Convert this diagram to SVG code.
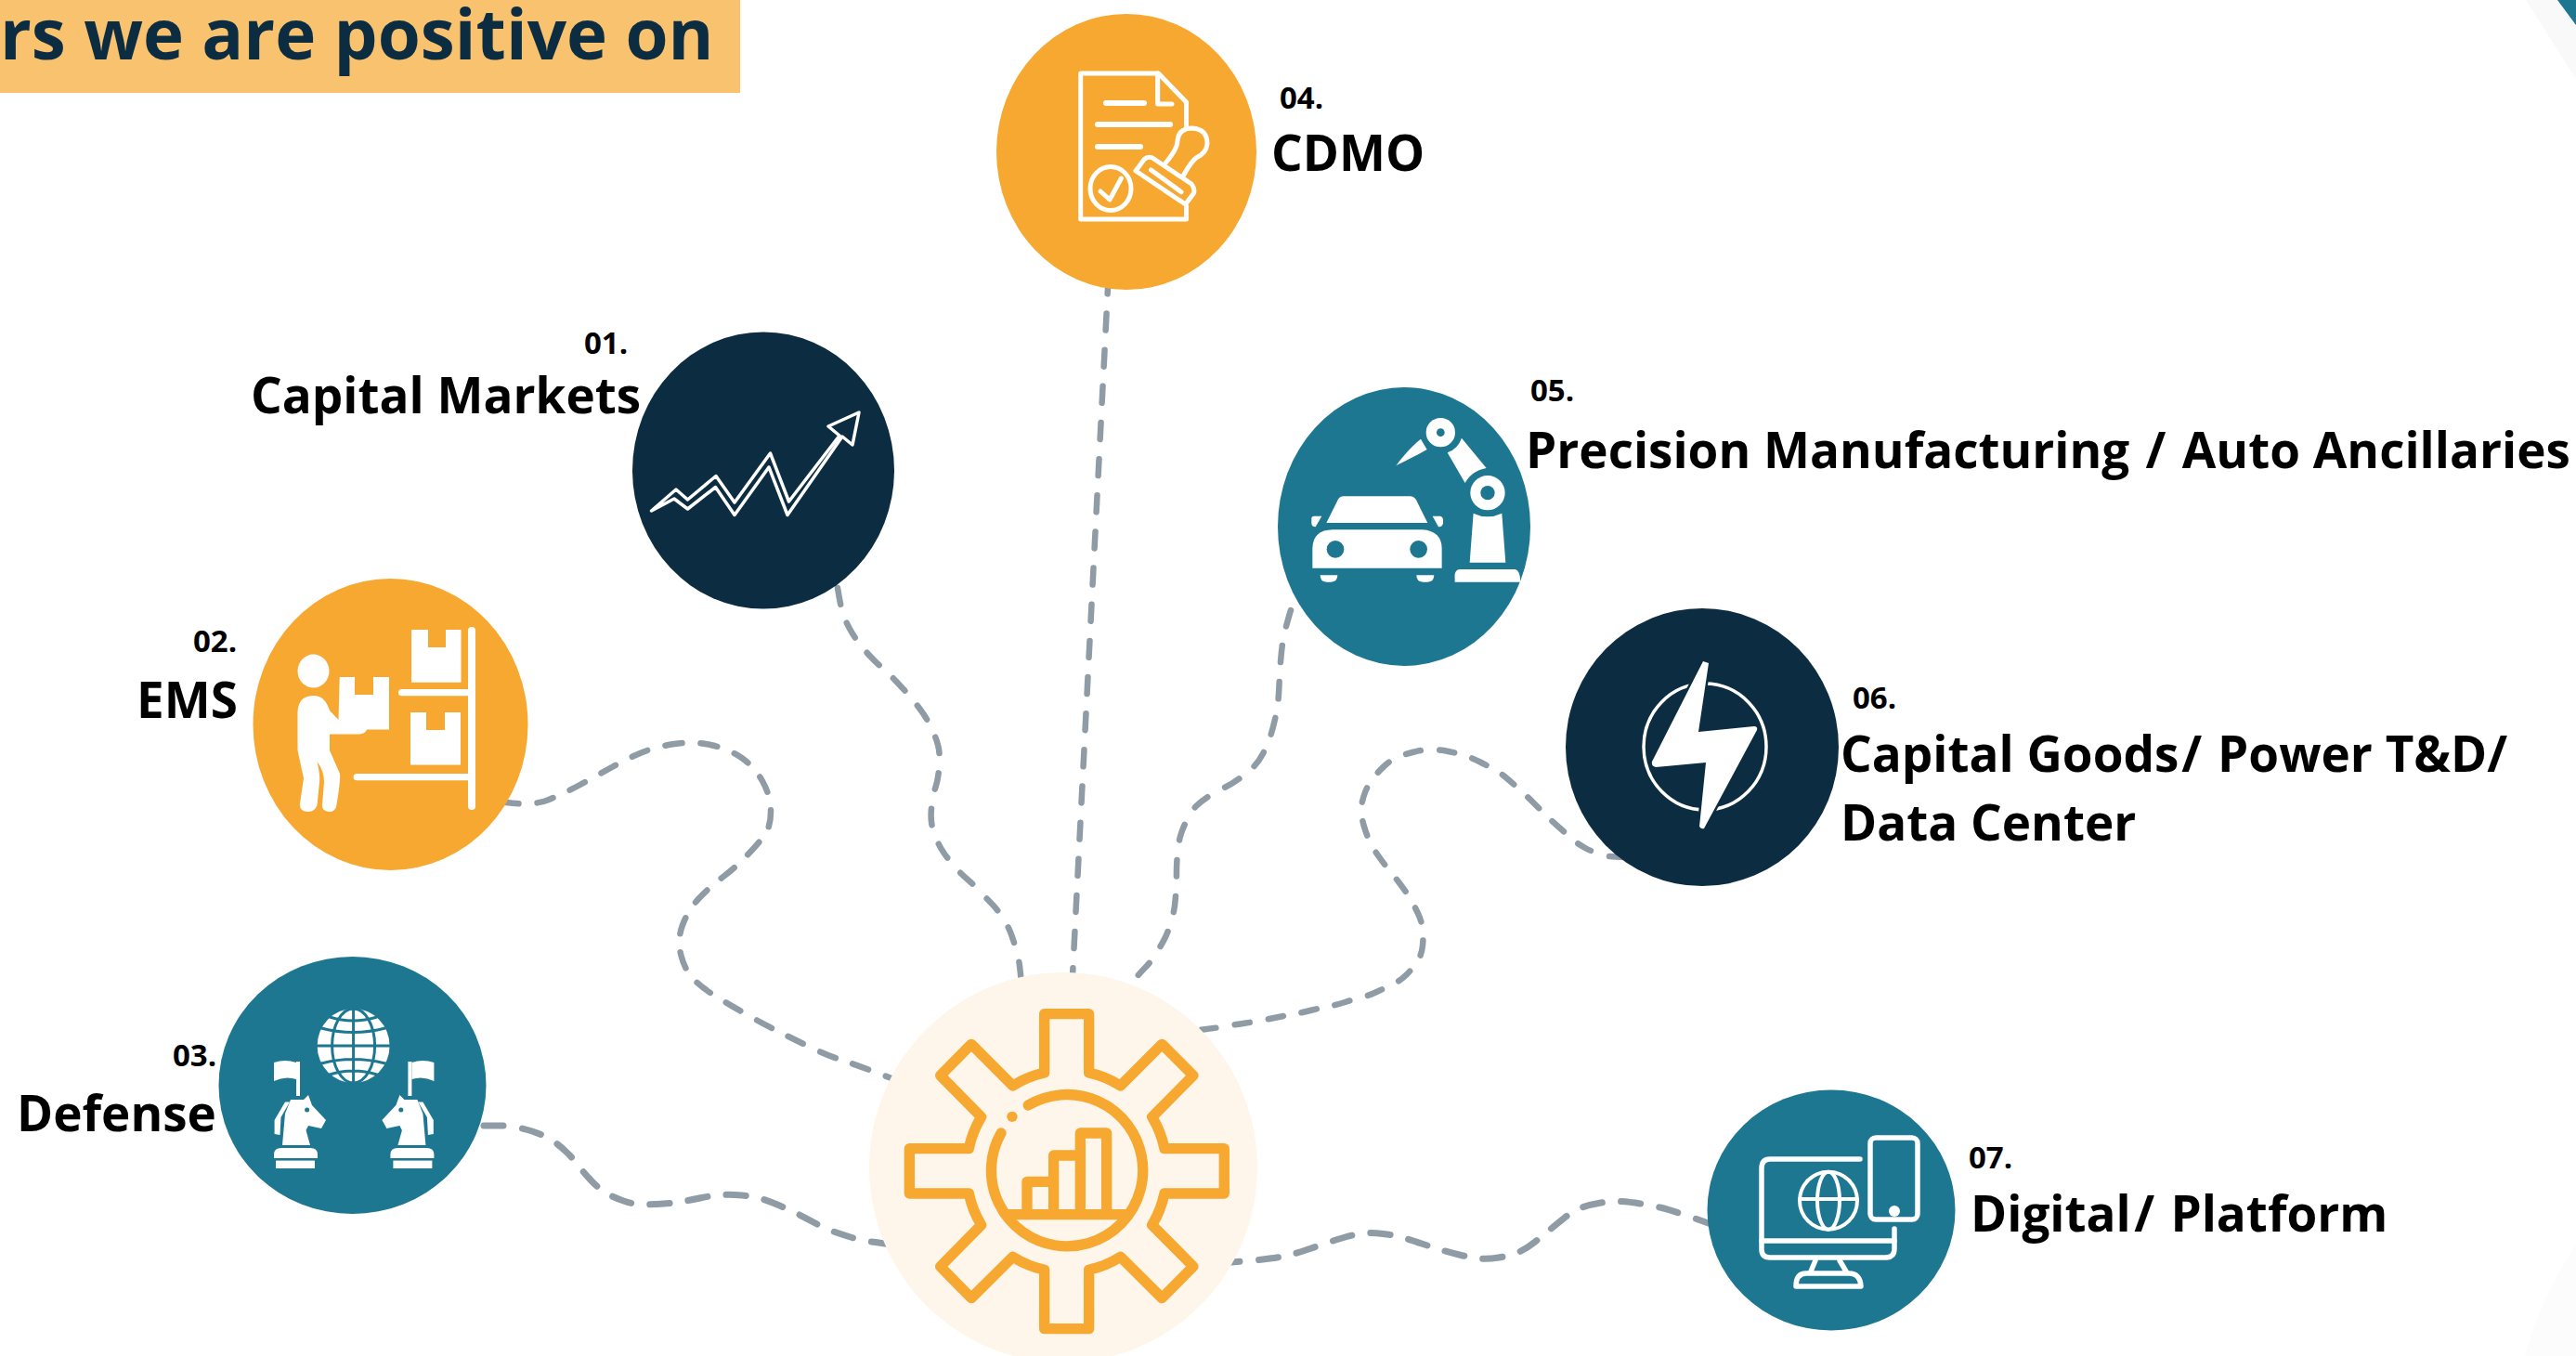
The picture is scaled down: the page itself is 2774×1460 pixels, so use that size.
<svg xmlns="http://www.w3.org/2000/svg" width="2774" height="1460" viewBox="0 0 2774 1460">
<style>
text{font-family:"Open Sans","Noto Sans","Liberation Sans",sans-serif;font-weight:700;fill:#000}
.num{font-size:33px}
.lab{font-size:53px}
.head{font-size:74.500px;fill:#0C2D41}
.con{fill:none;stroke:#8F9CA6;stroke-width:6.500;stroke-linecap:round;stroke-dasharray:18 21.2}
.con.a{stroke-width:7;stroke-dasharray:21 20.500}
.con.b{stroke-dasharray:16 20.700}
.con.c{stroke-dasharray:18 20}
.or{fill:#F6A830}.dk{fill:#0C2D41}.te{fill:#1E7791}
.w{fill:#fff}
.wl{fill:none;stroke:#fff;stroke-linecap:round;stroke-linejoin:round}
</style>
<defs>
<g id="knight">
<path class="w" d="M295 1144 Q307 1140 319 1144 L319 1162 Q307 1158 295 1164Z"/>
<rect class="w" x="319" y="1143" width="4" height="37"/>
<path class="w" d="M304 1233 L307 1199 L313 1184 L327 1184 L332 1179 L336 1190 L351 1206 L346 1215 L332 1212 L329.500 1217 L334 1233Z"/>
<circle class="te" cx="330.600" cy="1195" r="2.500"/>
<path class="w" d="M295.600 1221 L295.600 1206 L307 1186.600 L312 1186.600 L302.500 1203 L301.500 1222Z"/>
<path class="w" d="M295 1247 L295 1243 Q295 1236 303 1236 L334 1236 Q342 1236 342 1243 L342 1247Z"/>
<rect class="w" x="297" y="1249.600" width="42" height="8.400"/>
</g>
</defs>
<g id="background">
<path d="M2720 0 L2774 85 L2774 0Z" fill="#F9F9F9"/>
<path d="M2754 0 L2774 27 L2774 0Z" fill="#1E7791"/>
<path d="M2774 1340 Q2735 1400 2719 1460 L2774 1460Z" fill="#FCFCFC"/>
</g>
<g id="header">
<rect x="0" y="0" width="797" height="100" fill="#F8C26E"/>
<text class="head" x="0" y="63.500">rs we are positive on</text>
</g>
<g id="connectors">
<path id="c1" class="con" d="M902 633 Q905 652 907.500 660 Q910 668 915 677 Q920 686 925 692.500 Q930 699 937 706.500 Q944 714 950.500 719.500 Q957 725 964.500 733 Q972 741 977 746.500 Q982 752 988.500 760.500 Q995 769 999 776 Q1003 783 1007 793 Q1011 803 1011.500 811 Q1012 819 1011 829.500 Q1010 840 1007.500 847.500 Q1005 855 1003.500 866 Q1002 877 1003 885 Q1004 893 1008 902.500 Q1012 912 1016.500 918.500 Q1021 925 1028 933 Q1035 941 1041.500 946.500 Q1048 952 1055 959.500 Q1062 967 1067.500 972.500 Q1073 978 1079 987 Q1085 996 1088 1003.500 Q1091 1011 1094 1021.500 Q1097 1032 1098 1040 Q1099 1048 1100 1060"/>
<path id="c2" class="con c" d="M541 862 L545 864 Q574 868 591 861 Q608 854 625.500 844.500 Q643 835 659 826 Q675 817 690.500 810.500 Q706 804 726 801 Q746 798 765 802 Q784 806 798 815.500 Q812 825 821 841 Q830 857 830 874 Q830 891 822.500 900.500 Q815 910 803.500 922 Q792 934 777.500 945 Q763 956 752 968 Q741 980 735 996 Q729 1012 733.500 1029 Q738 1046 748 1055.500 Q758 1065 772 1073.500 Q786 1082 803.500 1092 Q821 1102 838 1110.500 Q855 1119 872.500 1127.500 Q890 1136 904 1140.500 Q918 1145 960 1161"/>
<path id="c3" class="con a" d="M521 1212 L543 1212 Q561 1214 573 1218 Q585 1222 592.500 1226.500 Q600 1231 609 1239.500 Q618 1248 623 1255 Q628 1262 636.500 1271 Q645 1280 652.500 1284.500 Q660 1289 671.500 1293 Q683 1297 692.500 1297 Q702 1297 714.500 1296 Q727 1295 735.500 1293.500 Q744 1292 756 1289.500 Q768 1287 777.500 1286.500 Q787 1286 799 1287 Q811 1288 819.500 1290.500 Q828 1293 839.500 1298 Q851 1303 859 1307 Q867 1311 878 1317 Q889 1323 897.500 1326 Q906 1329 917.500 1332.500 Q929 1336 938 1337 Q947 1338 960 1340"/>
<path id="c4" class="con" stroke-dashoffset="1.600" d="M1193.500 300 L1154.500 1060"/>
<path id="c5" class="con" d="M1390 657 Q1383 680 1381.500 690 Q1380 700 1379 712.500 Q1378 725 1377.500 737.500 Q1377 750 1376 758 Q1375 766 1372.500 776.500 Q1370 787 1367.500 794.500 Q1365 802 1360 811.500 Q1355 821 1349 826.500 Q1343 832 1335 838 Q1327 844 1319.500 847.500 Q1312 851 1303 856.500 Q1294 862 1288.500 867.500 Q1283 873 1278 883 Q1273 893 1271 900.500 Q1269 908 1268 919 Q1267 930 1267 937.500 Q1267 945 1266.500 956 Q1266 967 1265 975 Q1264 983 1261 993 Q1258 1003 1254.500 1010 Q1251 1017 1245 1026.500 Q1239 1036 1233.500 1041.500 Q1228 1047 1217 1060"/>
<path id="c6" class="con b" d="M1749 923 L1732 922 Q1716 918 1707 913 Q1698 908 1692 902.500 Q1686 897 1678 890 Q1670 883 1664.500 877.500 Q1659 872 1651.500 864.500 Q1644 857 1638.500 852 Q1633 847 1625 840 Q1617 833 1610 829 Q1603 825 1594 820.500 Q1585 816 1577.500 813.500 Q1570 811 1559.500 809 Q1549 807 1541 807 Q1533 807 1523 809.500 Q1513 812 1505.500 815 Q1498 818 1490.500 825 Q1483 832 1478 838.500 Q1473 845 1469.500 854.500 Q1466 864 1466 872 Q1466 880 1469 890 Q1472 900 1475.500 907 Q1479 914 1485 922.500 Q1491 931 1496 937 Q1501 943 1507.500 951.500 Q1514 960 1518 966.500 Q1522 973 1526.500 982.500 Q1531 992 1532 1000 Q1533 1008 1532 1018 Q1531 1028 1526.500 1035 Q1522 1042 1515 1049 Q1508 1056 1500.500 1059.500 Q1493 1063 1483.500 1067.500 Q1474 1072 1466 1074 Q1458 1076 1448.500 1079 Q1439 1082 1431 1083.500 Q1423 1085 1413 1087.500 Q1403 1090 1395 1091.500 Q1387 1093 1377 1095 Q1367 1097 1359.500 1098.500 Q1352 1100 1341.500 1101.500 Q1331 1103 1323 1104.500 Q1315 1106 1285 1110"/>
<path id="c7" class="con a" d="M1314 1360 L1352 1357 Q1377 1354 1385.500 1352 Q1394 1350 1406 1346 Q1418 1342 1426.500 1339 Q1435 1336 1447 1332.500 Q1459 1329 1468 1328 Q1477 1327 1489.500 1328.500 Q1502 1330 1510.500 1332.500 Q1519 1335 1531 1339 Q1543 1343 1551 1345.500 Q1559 1348 1571.500 1351 Q1584 1354 1593 1355 Q1602 1356 1614 1354 Q1626 1352 1634.500 1348.500 Q1643 1345 1652.500 1337.500 Q1662 1330 1668.500 1324.500 Q1675 1319 1685 1311 Q1695 1303 1703.500 1300 Q1712 1297 1724 1295 Q1736 1293 1745 1293.500 Q1754 1294 1766.500 1296 Q1779 1298 1787.500 1300 Q1796 1302 1808 1306 Q1820 1310 1828.500 1313 Q1837 1316 1845 1319"/>
</g>
<g id="node-center">
<ellipse cx="1145" cy="1257" rx="209" ry="210" fill="#FEF6EA"/>
<g transform="translate(900,1020) scale(.3333)" fill="none" stroke="#F6A830" stroke-width="34" stroke-linejoin="round" stroke-linecap="round">
<path d="M674 215 L818 215 L818 405 A320 320 0 0 1 920 447 L1054 313 L1155 414 L1022 548 A320 320 0 0 1 1062 650 L1255 650 L1255 795 L1062 795 A320 320 0 0 1 1022 897 L1155 1031 L1054 1133 L920 1000 A320 320 0 0 1 818 1042 L818 1232 L674 1232 L674 1042 A320 320 0 0 1 572 1000 L438 1133 L338 1031 L470 897 A320 320 0 0 1 430 795 L238 795 L238 650 L430 650 A320 320 0 0 1 470 548 L338 414 L438 313 L572 447 A320 320 0 0 1 674 405Z"/>
<path d="M622 510 A245 245 0 1 1 534 600"/>
<path d="M555 863 L940 863 M618 863 L618 757 L704 757 M704 863 L704 672 L790 672 M790 863 L790 600 L875 600 L875 863"/>
<circle cx="570" cy="547" r="17" fill="#F6A830" stroke="none"/>
</g>
</g>
<g id="node-01">
<ellipse class="dk" cx="822" cy="506.500" rx="141" ry="149"/>
<path class="wl" stroke-width="3.500" d="M701.500 550 L728 527 L740.500 538 L771 512.500 L791 541 L829.500 488 L849.500 540 L904 469 L892 459 L925 444 L918 479 L907 470 L848 554.500 L828 503 L791 554.500 L770.500 524.500 L740.500 548 L726 537Z"/>
<text class="num" x="629" y="381">01.</text>
<text class="lab" x="270" y="445">Capital Markets</text>
</g>
<g id="node-02">
<ellipse class="or" cx="420.500" cy="780" rx="148" ry="157"/>
<ellipse class="w" cx="337.500" cy="722.600" rx="17" ry="18"/>
<path class="w" d="M320.500 767 Q321 749 338 749 Q350 749 355 765 L364.500 775 L365.700 729 L382 729 L382 748 L402 748 L402 729 L419 729 L419 785.600 L395 785.600 Q393 790.500 387 790.500 L355 790.500 L355 808 L366 833 Q367 840 362 869 Q360 874 355 874 Q346 874 347 866 L349 842 Q349 830 341.500 820 Q345 835 344 842 L341.500 867 Q339 874 332 874 Q322 874 323 865 L327 838 L320.500 808Z"/>
<path class="w" d="M443 678 L461 678 L461 697 L480 697 L480 678 L496.500 678 L496.500 734.800 L443 734.800Z"/>
<path class="w" d="M442 767 L459 767 L459 786 L479 786 L479 767 L496 767 L496 823.500 L442 823.500Z"/>
<rect class="w" x="504" y="675" width="8" height="197" rx="4"/>
<rect class="w" x="429" y="742" width="78" height="7.300" rx="3.600"/>
<rect class="w" x="380.600" y="833" width="126" height="7.300" rx="3.600"/>
<text class="num" x="208" y="702">02.</text>
<text class="lab" x="147" y="773">EMS</text>
</g>
<g id="node-03">
<ellipse class="te" cx="379.500" cy="1168.500" rx="144" ry="138.500"/>
<g>
<ellipse class="w" cx="380.600" cy="1126" rx="39" ry="40"/>
<g fill="none" stroke="#1E7791" stroke-width="3">
<ellipse cx="380.600" cy="1126" rx="23" ry="40"/>
<path d="M380.600 1086 V1166 M341 1126 H420 M346 1107 Q380 1116 415 1107 M346 1145 Q380 1136 415 1145 M355 1095 Q380 1103 406 1095 M355 1157 Q380 1149 406 1157"/>
</g>
</g>
<use href="#knight"/>
<use href="#knight" transform="translate(762.400,0) scale(-1,1)"/>
<text class="num" x="186" y="1148">03.</text>
<text class="lab" x="18" y="1218">Defense</text>
</g>
<g id="node-04">
<ellipse class="or" cx="1213" cy="163.500" rx="140" ry="148.500"/>
<g class="wl" stroke-width="5">
<path d="M1277.500 138 L1277.500 110 L1247.500 79 L1163.700 79 L1163.700 236 L1277.500 236 L1277.500 222"/>
<path d="M1246.700 79 L1246.700 112 L1262 112"/>
<path stroke-width="6" d="M1191 111 H1232 M1182 134 H1260 M1182 158 H1228"/>
<ellipse cx="1196" cy="203" rx="22" ry="23.500"/>
<path d="M1185 206 L1195 215 L1207.400 192"/>
<path d="M1223 184 L1232 171.700 Q1236 168 1241 170 L1283 198 Q1287 203 1285.500 208 L1276.600 220Z"/>
<path d="M1239.500 183 L1272 206.700"/>
<path d="M1255.600 175 Q1268 160 1268 152 Q1269 138 1284 138 Q1300 139 1300 155 Q1299 165 1288 170 Q1282 175 1274.400 189"/>
</g>
<text class="num" x="1378" y="116.700">04.</text>
<text class="lab" x="1369" y="183.500">CDMO</text>
</g>
<g id="node-05">
<ellipse class="te" cx="1512" cy="567" rx="136" ry="150"/>
<g transform="translate(1400,430) scale(.3333)">
<circle class="w" cx="454" cy="107" r="47"/><circle class="te" cx="454" cy="107" r="13"/>
<circle class="w" cx="606" cy="302" r="56"/><circle class="te" cx="606" cy="302" r="23"/>
<path class="w" d="M390 128 L410 162 Q360 190 310 214 Q350 160 390 128Z"/>
<path class="w" d="M522 125 L602 222 Q555 230 533 270 L476 172 Q510 160 522 125Z"/>
<path class="w" d="M560 368 Q605 390 652 368 L664 527 L548 527Z"/>
<path class="w" d="M500 590 L500 565 Q503 549 518 549 L695 549 Q711 552 712 590Z"/>
<path class="w" d="M85 399 L122 325 Q128 313 140 313 L355 313 Q368 313 375 325 L412 399Z"/>
<path class="w" d="M70 377 L50 412 Q37 412 37 400 L37 385 Q37 377 45 377Z"/>
<path class="w" d="M428 377 L453 377 Q462 379 462 390 L462 400 Q460 413 447 412Z"/>
<path class="w" d="M40 545 L40 480 Q42 422 105 421 L395 421 Q456 425 458 480 L458 545Z"/>
<circle class="te" cx="114" cy="484" r="28"/><circle class="te" cx="383" cy="484" r="28"/>
<path class="w" d="M65 568 L121 568 Q121 590 100 590 L85 590 Q65 590 65 568Z"/>
<path class="w" d="M376 568 L433 568 Q433 590 412 590 L397 590 Q376 590 376 568Z"/>
</g>
<text class="num" x="1648" y="432">05.</text>
<text class="lab" x="1643" y="504">Precision Manufacturing <tspan dx="3.500">/</tspan> <tspan dx="3.500">Auto Ancillaries</tspan></text>
</g>
<g id="node-06">
<ellipse class="dk" cx="1833" cy="804.500" rx="147" ry="149.500"/>
<ellipse class="wl" stroke-width="3.500" cx="1836" cy="804" rx="66" ry="68"/>
<path class="w" stroke="#0C2D41" stroke-width="5" paint-order="stroke" d="M1834 712 L1840 714 L1829 788 L1889 782 Q1893 782 1892 786 L1835 892 Q1832 893 1830 890 L1837 821 L1783 826 Q1778 825 1779 820Z"/>
<text class="num" x="1995" y="762.500">06.</text>
<text class="lab" x="1982" y="830.500">Capital Goods<tspan dx="3">/</tspan> <tspan dx="3">Power T&amp;D/</tspan></text>
<text class="lab" x="1982" y="904.500">Data Center</text>
</g>
<g id="node-07">
<ellipse class="te" cx="1972" cy="1303" rx="133.500" ry="129.500"/>
<g class="wl" stroke-width="5.500">
<path d="M2003 1248 L1906 1248 Q1897 1248 1897 1258 L1897 1345 Q1897 1354 1906 1354 L2030 1354 Q2040 1354 2040 1345 L2040 1323"/>
<path d="M1897 1336 H2040"/>
<path d="M1955 1357 L1950 1369 M1981 1357 L1988 1369"/>
<path d="M1934 1385 Q1934 1371 1945 1371 L1991 1371 Q2003 1371 2004 1385Z"/>
<rect x="2014" y="1225" width="51" height="88" rx="6"/>
</g>
<circle class="w" cx="2040" cy="1304" r="6"/>
<g class="wl" stroke-width="4">
<ellipse cx="1969" cy="1292.700" rx="31" ry="31"/>
<ellipse cx="1969" cy="1292.700" rx="12" ry="31"/>
<path d="M1938 1291 H2000"/>
</g>
<text class="num" x="2120" y="1258">07.</text>
<text class="lab" x="2122" y="1325.500">Digital<tspan dx="3.500">/</tspan> <tspan dx="3.500">Platform</tspan></text>
</g>
</svg>
